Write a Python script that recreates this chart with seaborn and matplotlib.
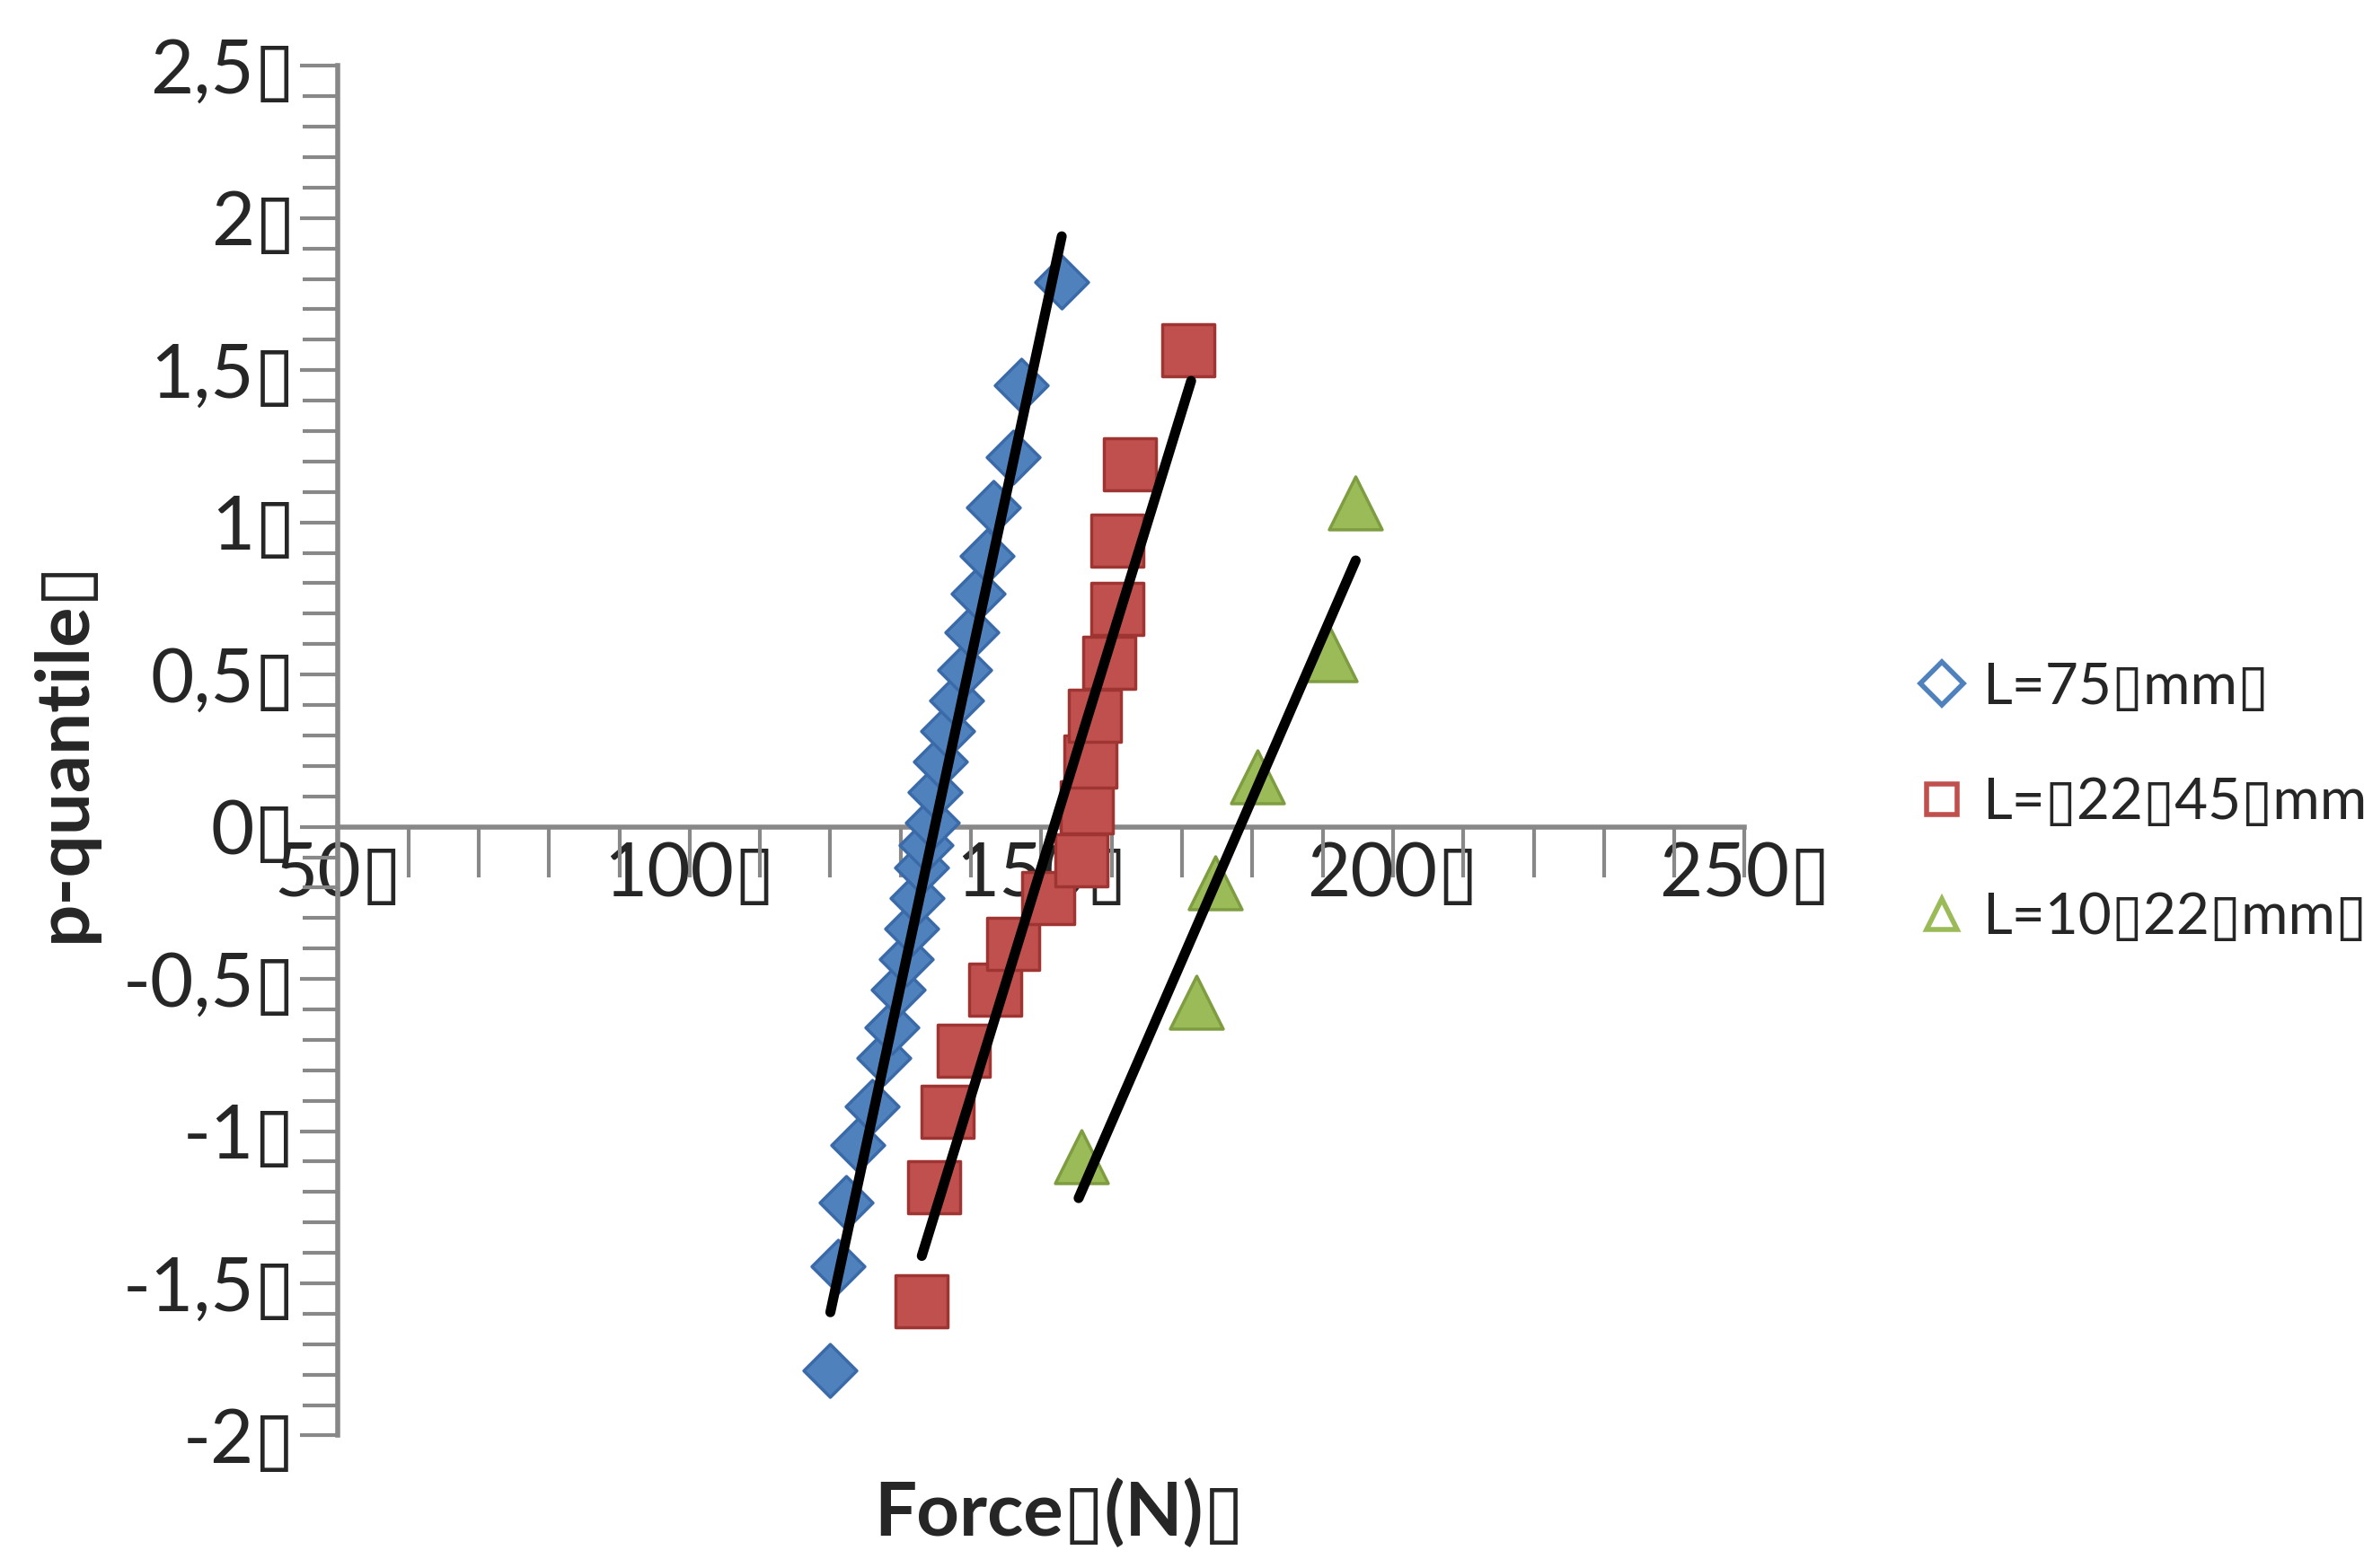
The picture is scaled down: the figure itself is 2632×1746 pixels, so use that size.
import matplotlib
matplotlib.use("Agg")
import matplotlib.pyplot as plt
import seaborn as sns
import pandas as pd
from matplotlib.lines import Line2D
from matplotlib.ticker import MultipleLocator, FixedLocator

blue_x = [120.0,121.1,122.2,123.9,126.0,127.6,128.7,129.7,130.8,131.5,132.3,133.0,133.6,134.5,134.9,135.6,136.7,138.0,139.1,140.1,141.0,142.3,143.2,146.0,147.1,152.9]
blue_y = [-1.785,-1.445,-1.235,-1.045,-0.92,-0.76,-0.66,-0.535,-0.435,-0.335,-0.235,-0.135,-0.06,0.015,0.115,0.215,0.315,0.415,0.515,0.64,0.765,0.89,1.05,1.215,1.45,1.79]
red_x = [133.0,134.7,136.7,139.0,143.4,146.0,151.0,155.7,156.4,157.0,157.6,159.7,160.8,160.8,162.6,170.9]
red_y = [-1.56,-1.185,-0.935,-0.735,-0.535,-0.385,-0.235,-0.11,0.065,0.215,0.365,0.54,0.715,0.94,1.19,1.565]
green_x = [155.7,172.0,174.7,180.7,191.1,194.7]
green_y = [-1.085,-0.575,-0.185,0.165,0.565,1.065]
fit_blue = ([120.0,152.9],[-1.595,1.94])
fit_red = ([133.0,171.3],[-1.41,1.465])
fit_green = ([155.3,194.7],[-1.22,0.875])
labels = ["L=75\u25afmm\u25af", "L=\u25af22\u25af45\u25afmm\u25af", "L=10\u25af22\u25afmm\u25af"]
xticks = [50,100,150,200,250]
yticks = [-2,-1.5,-1,-0.5,0,0.5,1,1.5,2,2.5]

sns.set_style("white")
plt.rcParams['font.family'] = ['Lato', 'DejaVu Sans']
fig = plt.figure(figsize=(26.32,17.46), dpi=100)
ax = fig.add_axes([0.143,0.0845,0.595,0.8735])

cols = ["#4F81BD","#C0504D","#9BBB59"]
edges = ["#3A6AA8","#9E3532","#7E9C40"]
mk = ["D","s","^"]
sz = [900,1800,1800]
for (xs,ys),c,e,m,s in zip([(blue_x,blue_y),(red_x,red_y),(green_x,green_y)],cols,edges,mk,sz):
    sns.scatterplot(x=xs,y=ys,ax=ax,color=c,marker=m,s=s,edgecolor=e,linewidth=2.5,zorder=3)
for fx,fy in [fit_blue,fit_red,fit_green]:
    sns.lineplot(x=fx,y=fy,ax=ax,color="black",linewidth=8,zorder=4)

ax.set_xlim(50,250); ax.set_ylim(-2,2.5)
ax.spines['left'].set_position(('data',50))
ax.spines['bottom'].set_position(('data',0))
for s in ['top','right']: ax.spines[s].set_visible(False)
for s in ['left','bottom']:
    ax.spines[s].set_color('#888888'); ax.spines[s].set_linewidth(4)
ax.xaxis.set_major_locator(FixedLocator(xticks))
ax.yaxis.set_major_locator(FixedLocator(yticks))
ax.xaxis.set_minor_locator(MultipleLocator(10))
ax.yaxis.set_minor_locator(MultipleLocator(0.1))
ax.set_xticklabels([f"{v}\u25af" for v in xticks])
ax.set_yticklabels([f"{v:g}".replace('.',',')+"\u25af" for v in yticks])
ax.tick_params(axis='x',which='both',direction='in',color='#888888',width=3,length=40,labelsize=60,pad=12,bottom=True,top=False)
ax.tick_params(axis='y',which='both',direction='out',width=3,color='#888888',left=True,right=False)
ax.tick_params(axis='y',which='major',length=30,labelsize=60,pad=4)
ax.tick_params(axis='y',which='minor',length=28)
for t in ax.xaxis.get_major_ticks() + ax.xaxis.get_minor_ticks():
    t.tick1line.set_marker(3)
fig.text(0.448,0.035,"Force\u25af(N)\u25af",fontsize=60,fontweight='bold',ha='center',va='center')
ax.set_ylabel("p-quantile\u25af",fontsize=60,fontweight='bold',labelpad=20)

handles = [Line2D([],[],marker=m,linestyle='none',markerfacecolor='white',markeredgecolor=c,markersize=24,markeredgewidth=4) for m,c in zip(mk,cols)]
fig.legend(handles,labels,loc='center left',bbox_to_anchor=(0.785,0.488),frameon=False,fontsize=46,labelspacing=1.1,handletextpad=0.1,handlelength=1.2)
fig.savefig("out.png",dpi=100)
